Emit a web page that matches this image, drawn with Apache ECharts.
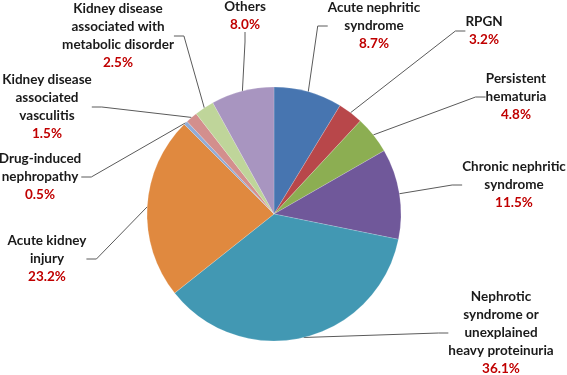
<!DOCTYPE html>
<html>
<head>
<meta charset="utf-8">
<script src="https://cdn.jsdelivr.net/npm/echarts@6/dist/echarts.min.js"></script>
<style>
  html, body { margin: 0; padding: 0; background: #fff; }
  #chart { width: 567px; height: 375px; }
</style>
</head>
<body>
<div id="chart"></div>
<script>
// categories, clockwise from 12 o'clock
var categories = [
  'Acute nephritic\nsyndrome',
  'RPGN',
  'Persistent\nhematuria',
  'Chronic nephritic\nsyndrome',
  'Nephrotic\nsyndrome or\nunexplained\nheavy proteinuria',
  'Acute kidney\ninjury',
  'Drug-induced\nnephropathy',
  'Kidney disease\nassociated\nvasculitis',
  'Kidney disease\nassociated with\nmetabolic disorder',
  'Others'
];
var percents = [8.7, 3.2, 4.8, 11.5, 36.1, 23.2, 0.5, 1.5, 2.5, 8.0];

var colors = ['#4775b0', '#b8474a', '#8cae52', '#70589a', '#4298b3',
  '#e0893f', '#92acd6', '#d38f8d', '#bfd59a', '#a895c0'];

// label anchor (top-centre of each label block)
var labelPos = [
  [374, -1], [484, 13], [516, 70], [514, 158], [501, 288],
  [47, 232], [40, 150], [47, 71], [118, 0], [245, -2]
];

var chart = echarts.init(document.getElementById('chart'));

var option = {
  animation: false,
  series: [{
    type: 'pie',
    center: [274, 214],
    radius: 127,
    startAngle: 90,
    clockwise: true,
    data: categories.map(function (c, i) {
      return { name: c, value: percents[i], itemStyle: { color: colors[i] } };
    }),
    itemStyle: {
      borderColor: 'rgba(255,255,255,0.35)',
      borderWidth: 0.5
    },
    label: {
      show: true,
      formatter: function (p) {
        return '{n|' + p.name + '}\n{p|' + p.value.toFixed(1) + '%}';
      },
      rich: {
        n: {
          fontFamily: 'Lato',
          fontWeight: 700,
          fontSize: 13.5,
          color: '#1a1a1a',
          lineHeight: 18,
          align: 'center'
        },
        p: {
          fontFamily: 'Lato',
          fontWeight: 700,
          fontSize: 13.5,
          color: '#c00000',
          lineHeight: 18,
          align: 'center'
        }
      }
    },
    labelLine: {
      show: true,
      length: 10,
      length2: 10,
      lineStyle: { color: '#5a5a5a', width: 1 }
    },
    labelLayout: function (params) {
      var pos = labelPos[params.dataIndex];
      return {
        x: pos[0],
        y: pos[1],
        align: 'center',
        verticalAlign: 'top'
      };
    }
  }]
};
chart.setOption(option);
</script>
</body>
</html>
